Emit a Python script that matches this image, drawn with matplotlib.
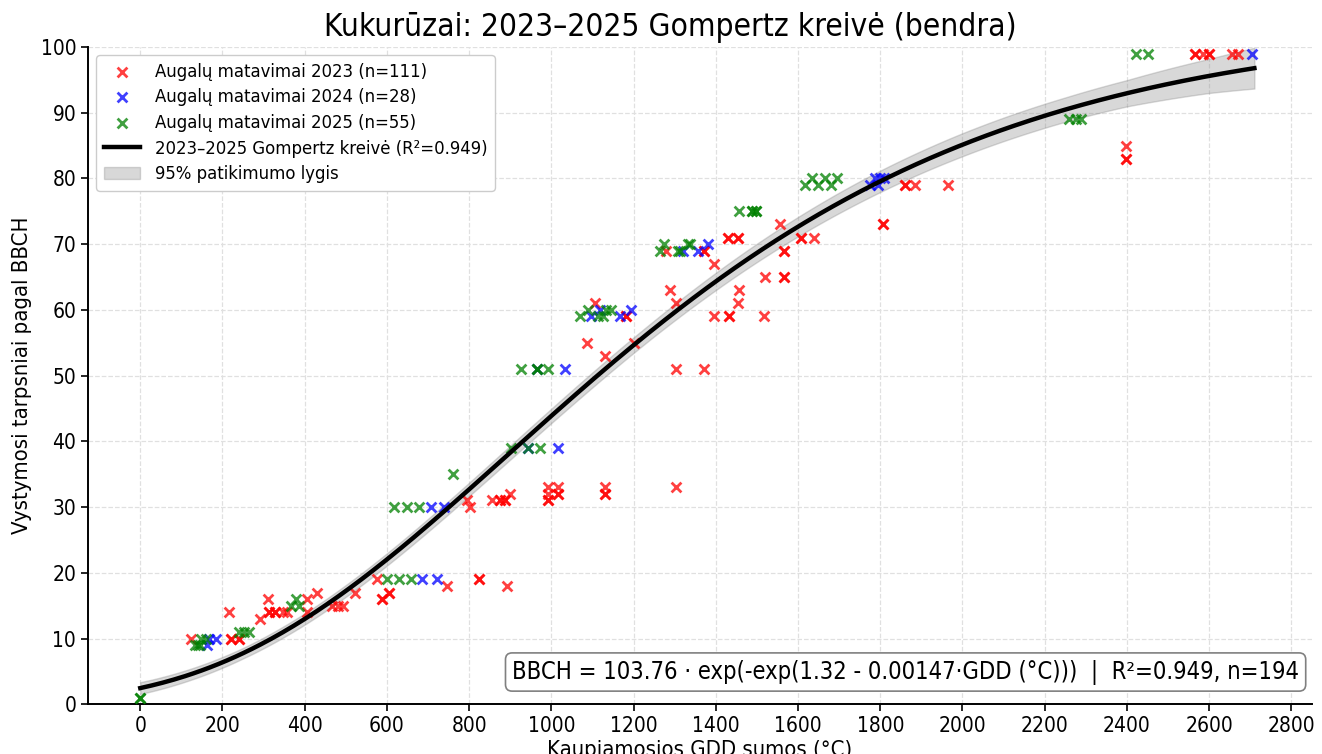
#!/usr/bin/env python3
"""Kukurūzai: 2023–2025 Gompertz kreivė (bendra) — BBCH vs kaupiamosios GDD sumos."""

import matplotlib

matplotlib.use("Agg")
import matplotlib.pyplot as plt
import numpy as np

plt.rcParams["font.family"] = ["DejaVu Sans"]
plt.rcParams["font.stretch"] = "condensed"

# --- matavimai (GDD °C, BBCH) ---
gdd_2023 = [124, 220, 220, 240, 240, 216, 291, 311, 312, 312, 328, 328, 346, 358,
            406, 406, 431, 467, 480, 492, 523, 576, 587, 587, 604, 604, 746, 824, 824, 891,
            794, 802, 855, 875, 875, 887, 887, 899, 992, 1017, 992, 1017, 1017, 992, 992,
            1130, 1130, 1130, 1302,
            1302, 1372, 1087, 1130, 1202, 1105, 1182, 1182,
            1279, 1372, 1372, 1429, 1429, 1453, 1453, 1395, 1288, 1456, 1302, 1453, 1395,
            1433, 1433, 1518, 1520, 1566, 1566, 1566, 1566, 1606, 1606, 1640, 1556,
            1806, 1806, 1861, 1861, 1885, 1964, 2397, 2397, 2397,
            2566, 2566, 2584, 2600, 2600, 2655, 2669]
bbch_2023 = [10, 10, 10, 10, 10, 14, 13, 16, 14, 14, 14, 14, 14, 14,
             16, 14, 17, 15, 15, 15, 17, 19, 16, 16, 17, 17, 18, 19, 19, 18,
             31, 30, 31, 31, 31, 31, 31, 32, 33, 33, 32, 32, 32, 31, 31,
             33, 32, 32, 33,
             51, 51, 55, 53, 55, 61, 59, 59,
             69, 69, 69, 71, 71, 71, 71, 67, 63, 63, 61, 61, 59,
             59, 59, 59, 65, 65, 65, 69, 69, 71, 71, 71, 73,
             73, 73, 79, 79, 79, 79, 85, 83, 83,
             99, 99, 99, 99, 99, 99, 99]

gdd_2024 = [162, 168, 185, 685, 722, 706, 738, 944, 1015, 965, 1032,
            1097, 1118, 1168, 1193, 1320, 1356, 1380,
            1776, 1786, 1795, 1800, 1810, 2705]
bbch_2024 = [9, 10, 10, 19, 19, 30, 30, 39, 39, 51, 51,
             59, 60, 59, 60, 69, 69, 70,
             79, 80, 79, 80, 80, 99]

gdd_2025 = [0, 0, 132, 140, 145, 148, 160, 241, 253, 265, 366, 378, 385,
            600, 630, 659, 617, 649, 677, 760, 903, 944, 972, 925, 965, 965, 992,
            1069, 1089, 1114, 1126, 1134, 1146, 1263, 1275, 1307, 1312, 1332, 1336,
            1456, 1489, 1489, 1497, 1497, 1616, 1649, 1681, 1633, 1665, 1694,
            2259, 2275, 2289, 2423, 2451]
bbch_2025 = [1, 1, 9, 9, 9, 10, 10, 11, 11, 11, 15, 16, 15,
             19, 19, 19, 30, 30, 30, 35, 39, 39, 39, 51, 51, 51, 51,
             59, 60, 59, 59, 60, 60, 69, 70, 69, 69, 70, 70,
             75, 75, 75, 75, 75, 79, 79, 79, 80, 80, 80,
             89, 89, 89, 99, 99]

# --- Gompertz modelis: BBCH = a * exp(-exp(b - c*GDD)) ---
fit_a, fit_b, fit_c = 103.76, 1.32, 0.00147
fit_r2, fit_n = 0.949, 194
gdd_max = 2710

# 95% juostos pusplotis (BBCH), nuskaitytas nuo paveikslo
ci_gdd = [0, 250, 500, 750, 1000, 1250, 1500, 1750, 2000, 2250, 2400, 2600, 2710]
ci_half = [0.9, 0.8, 0.9, 1.0, 1.1, 1.2, 1.4, 1.6, 1.75, 1.85, 2.0, 2.6, 3.1]

n23, n24, n25 = 111, 28, 55


def main() -> None:
    fig = plt.figure(figsize=(13.22, 7.54), dpi=100)
    ax = fig.add_axes([0.0666, 0.066, 0.9258, 0.8717])

    gx = np.linspace(0, gdd_max, 400)
    gy = fit_a * np.exp(-np.exp(fit_b - fit_c * gx))
    half = np.interp(gx, ci_gdd, ci_half)

    kw = dict(marker="x", s=50, linewidths=2, alpha=0.75, zorder=3)
    ax.scatter(gdd_2023, bbch_2023, color="red", label=f"Augalų matavimai 2023 (n={n23})", **kw)
    ax.scatter(gdd_2024, bbch_2024, color="blue", label=f"Augalų matavimai 2024 (n={n24})", **kw)
    ax.scatter(gdd_2025, bbch_2025, color="green", label=f"Augalų matavimai 2025 (n={n25})", **kw)
    ax.plot(gx, gy, color="black", lw=3.2, zorder=4,
            label=f"2023–2025 Gompertz kreivė (R²={fit_r2:.3f})")
    ax.fill_between(gx, gy - half, gy + half, color="gray", alpha=0.3, zorder=2,
                    label="95% patikimumo lygis")

    ax.set_xlim(-127, 2850)
    ax.set_ylim(0, 100)
    ax.set_xticks(np.arange(0, 2801, 200))
    ax.set_yticks(np.arange(0, 101, 10))
    ax.tick_params(labelsize=15, length=5, width=1.2)
    ax.grid(True, ls="--", color="#e0e0e0", lw=0.9, zorder=0)
    ax.set_axisbelow(True)
    for s in ("top", "right"):
        ax.spines[s].set_visible(False)
    for s in ("left", "bottom"):
        ax.spines[s].set_linewidth(1.4)

    ax.set_title("Kukurūzai: 2023–2025 Gompertz kreivė (bendra)", fontsize=22.7, pad=8, x=0.4755)
    ax.set_xlabel("Kaupiamosios GDD sumos (°C)", fontsize=15.8, labelpad=3)
    ax.set_ylabel("Vystymosi tarpsniai pagal BBCH", fontsize=15.8, labelpad=6)

    ax.legend(loc="upper left", fontsize=13.2, scatterpoints=1, frameon=True,
              edgecolor="#cccccc", framealpha=1.0, borderaxespad=0.45, labelspacing=0.42)

    eq = (f"BBCH = {fit_a:.2f} · exp(-exp({fit_b:.2f} - {fit_c:.5f}·GDD (°C)))"
          f"  |  R²={fit_r2:.3f}, n={fit_n}")
    ax.text(0.9895, 0.03, eq, transform=ax.transAxes, ha="right", va="bottom", fontsize=17,
            bbox=dict(boxstyle="round,pad=0.28", fc="white", ec="gray", lw=1.2), zorder=5)

    fig.savefig("out.png", dpi=100)


if __name__ == "__main__":
    main()
